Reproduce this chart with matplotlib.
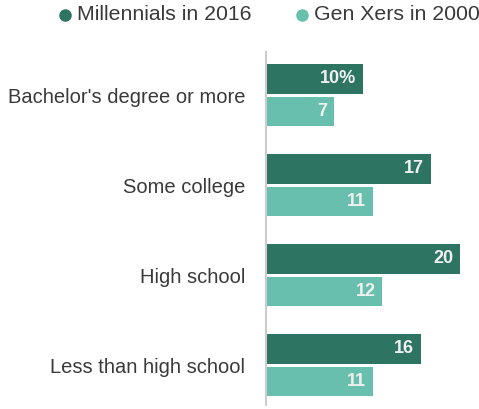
import numpy as np
import matplotlib.pyplot as plt

plt.rcParams['font.family'] = ['Liberation Sans', 'DejaVu Sans']

categories = ["Bachelor's degree or more", 'Some college', 'High school', 'Less than high school']
millennials_2016 = [10, 17, 20, 16]
genx_2000 = [7, 11, 12, 11]
value_labels_2016 = ['10%', '17', '20', '16']
value_labels_2000 = ['7', '11', '12', '11']
series_names = ['Millennials in 2016', 'Gen Xers in 2000']

dark = '#2d7463'
light = '#68bfae'

W, H = 479, 409
fig = plt.figure(figsize=(W / 100, H / 100), dpi=100)
ax = fig.add_axes([266 / W, 4 / H, 208 / W, 353 / H])

y = np.arange(len(categories))
h = 0.333
off = 0.183
b1 = ax.barh(y - off, millennials_2016, height=h, color=dark)
b2 = ax.barh(y + off, genx_2000, height=h, color=light)

for bars, labels in ((b1, value_labels_2016), (b2, value_labels_2000)):
    for bar, lab in zip(bars, labels):
        ax.annotate(lab, (bar.get_width(), bar.get_y() + bar.get_height() / 2),
                    xytext=(-5, 0), textcoords='offset points',
                    ha='right', va='center', color='#f0f0f0',
                    fontsize=13, fontweight='bold')

ax.set_xlim(0, 21.44)
ax.set_ylim(3.444, -0.478)
ax.set_yticks(y)
ax.set_yticklabels(categories, fontsize=14.5, color='#3a3a3a')
ax.tick_params(axis='y', length=0, pad=15)
ax.set_xticks([])
for side in ('top', 'right', 'bottom'):
    ax.spines[side].set_visible(False)
ax.spines['left'].set_color('#cccccc')
ax.spines['left'].set_linewidth(1.5)

# legend row across the top: dot + label for each series
legend_y = 1 - 15 / H
for x_dot, color, name in ((65, dark, series_names[0]), (302, light, series_names[1])):
    fig.add_artist(plt.Line2D([x_dot / W], [legend_y], marker='o', markersize=8,
                              color=color, linestyle='', transform=fig.transFigure))
    fig.text((x_dot + 12) / W, legend_y, name, ha='left', va='center',
             fontsize=15.3, color='#3a3a3a')

fig.savefig('out.png', dpi=100, facecolor='white')
